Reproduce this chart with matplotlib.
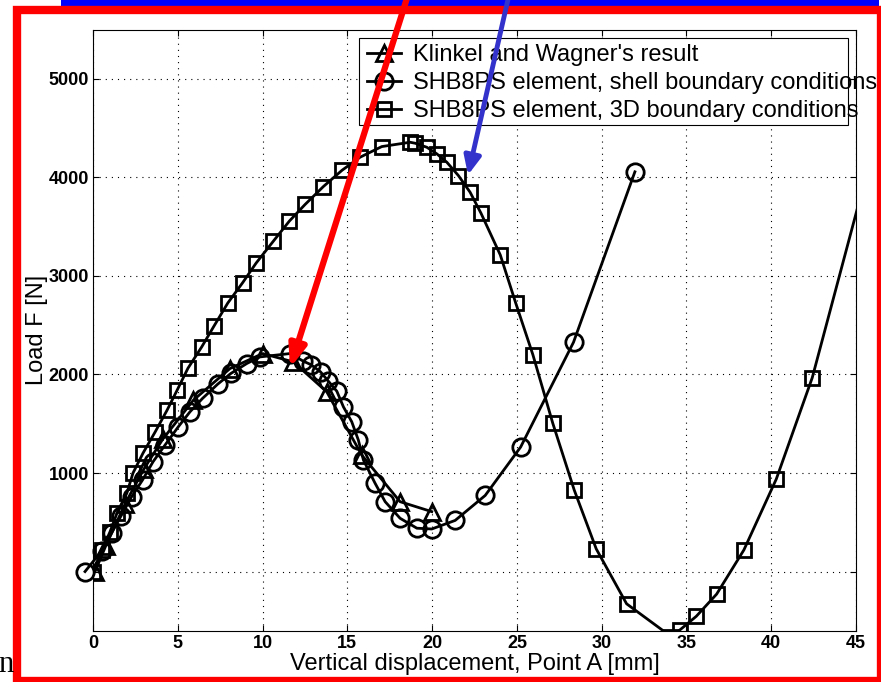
import matplotlib
matplotlib.use("Agg")
import matplotlib.pyplot as plt
from matplotlib.patches import Rectangle, FancyArrowPatch
from matplotlib.transforms import IdentityTransform

plt.rcParams['font.family'] = ['Liberation Sans', 'DejaVu Sans']

# Klinkel and Wagner's result
tr_x = [0.12, 0.75, 1.9, 3.0, 4.1, 5.92, 8.08, 10.01, 11.82, 13.79, 15.85, 18.11, 19.98]
tr_y = [0, 260, 690, 1040, 1340, 1739, 2060, 2212, 2127, 1823, 1182, 709, 608]

# SHB8PS element, shell boundary conditions
ci_x = [-0.47, 0.51, 1.10, 1.65, 2.28, 2.92, 3.54, 4.25, 5.03, 5.72, 6.46, 7.35, 8.13,
        9.07, 9.85, 11.62, 12.41, 12.86, 13.42, 13.88, 14.38, 14.77, 15.26, 15.65,
        15.95, 16.64, 17.23, 18.11, 19.1, 19.98, 21.36, 23.13, 25.22, 28.34, 31.96]
ci_y = [0, 210, 392, 564, 760, 929, 1114, 1284, 1469, 1621, 1757, 1901, 2010,
        2111, 2178, 2212, 2134, 2099, 2026, 1932, 1830, 1671, 1520, 1334,
        1131, 895, 709, 541, 440, 432, 519, 772, 1263, 2327, 4056]

# SHB8PS element, 3D boundary conditions
sq_x = [0, 0.53, 1.0, 1.42, 2.0, 2.36, 2.95, 3.66, 4.37, 4.96, 5.6, 6.41, 7.14, 7.95,
        8.83, 9.62, 10.64, 11.58, 12.51, 13.59, 14.69, 15.75, 17.03, 18.7, 19.0,
        19.69, 20.28, 20.87, 21.55, 22.24, 22.88, 24.02, 24.93, 25.94, 27.12, 28.38,
        29.68, 31.47, 34.1, 34.63, 35.58, 36.78, 38.39, 40.3, 42.42, 46.5]
sq_y = [0, 220, 402, 595, 797, 1000, 1202, 1415, 1638, 1840, 2063, 2279, 2492, 2725,
        2932, 3130, 3353, 3556, 3725, 3907, 4072, 4204, 4312, 4356, 4346,
        4305, 4238, 4153, 4018, 3849, 3637, 3213, 2725, 2202, 1503, 828,
        230, -327, -660, -590, -454, -229, 220, 939, 1967, 4600]

labels = ["Klinkel and Wagner's result",
          "SHB8PS element, shell boundary conditions",
          "SHB8PS element, 3D boundary conditions"]
x_ticks = [0, 5, 10, 15, 20, 25, 30, 35, 40, 45]
y_ticks = [0, 1000, 2000, 3000, 4000, 5000]
y_ticklabels = ['', '1000', '2000', '3000', '4000', '5000']

W, H = 881, 682
fig = plt.figure(figsize=(W / 100, H / 100), dpi=100)
ax = fig.add_axes([93 / W, 1 - 630.7 / H, (856 - 93) / W, (630.7 - 29.5) / H])

line_kw = dict(color='k', lw=2, mew=2, mfc='none')
h1, = ax.plot(tr_x, tr_y, marker='^', ms=12, **line_kw)
h2, = ax.plot(ci_x, ci_y, marker='o', ms=12.5, clip_on=False, **line_kw)
h3, = ax.plot(sq_x, sq_y, marker='s', ms=10, **line_kw)

ax.set_xlim(0, 45)
ax.set_ylim(-600, 5500)
ax.set_xticks(x_ticks)
ax.set_yticks(y_ticks)
ax.set_yticklabels(y_ticklabels)
ax.tick_params(direction='in', length=4, width=0.8, top=True, right=True,
               labelsize=13, pad=3)
for lab in ax.get_xticklabels() + ax.get_yticklabels():
    lab.set_fontweight('bold')
ax.grid(True, color='k', lw=0.8, linestyle=(0, (1, 4.5)))
for s in ax.spines.values():
    s.set_linewidth(0.8)

ax.set_xlabel('Vertical displacement, Point A [mm]', fontsize=17)
ax.set_ylabel('Load F [N]', fontsize=17)
ax.xaxis.set_label_coords(0.5, -0.037)
ax.yaxis.set_label_coords(-0.059, 0.5)

# legend (frame drawn separately, text overflows like the original)
leg = ax.legend([h1, h2, h3], labels, loc='upper left',
                bbox_to_anchor=(367 / W, 1 - 44 / H), bbox_transform=fig.transFigure,
                frameon=False, borderpad=0, borderaxespad=0, handlelength=1.45,
                handletextpad=0.5, labelspacing=0.25, fontsize=17)
leg.set_zorder(6)
frame = Rectangle((358.5, H - 125), 848 - 358.5, 87, transform=IdentityTransform(),
                  facecolor='white', edgecolor='k', lw=0.8, zorder=5, clip_on=False)
ax.add_artist(frame)

# annotations on top of the figure
fig.add_artist(Rectangle((61, H - 5.5), 818, 8, transform=IdentityTransform(),
                         facecolor='#0000FF', edgecolor='none'))
fig.add_artist(Rectangle((16.5, 1), 864.5, H - 9.5 - 1, transform=IdentityTransform(),
                         facecolor='none', edgecolor='#FF0000', lw=6))
fig.add_artist(FancyArrowPatch((408, H + 5), (290, H - 368),
                               arrowstyle='-|>,head_length=13,head_width=5',
                               mutation_scale=1, lw=4.5, color='#FF0000',
                               shrinkA=0, shrinkB=0, transform=IdentityTransform()))
fig.add_artist(FancyArrowPatch((509, H + 5), (468, H - 175),
                               arrowstyle='-|>,head_length=11,head_width=5',
                               mutation_scale=1, lw=3.5, color='#3333CC',
                               shrinkA=0, shrinkB=0, transform=IdentityTransform()))
fig.text(-2 / W, 1 - 672 / H, 'n', family='Liberation Serif', fontsize=22)

fig.savefig('out.png', dpi=100)
